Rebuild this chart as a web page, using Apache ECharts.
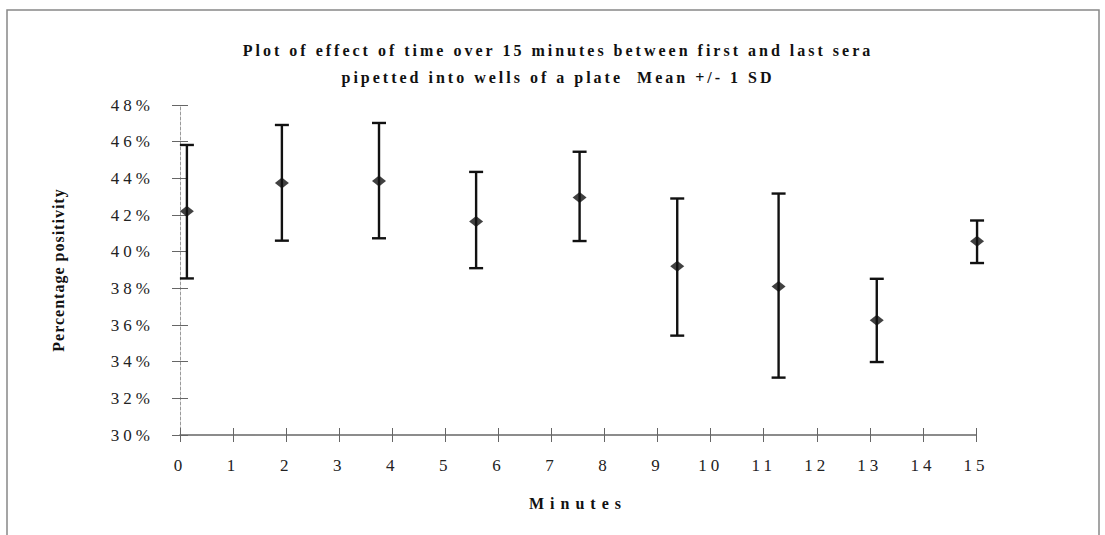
<!DOCTYPE html>
<html>
<head>
<meta charset="utf-8">
<script src="https://cdn.jsdelivr.net/npm/echarts@6/dist/echarts.min.js"></script>
<style>
  html, body { margin: 0; padding: 0; background: #fff; }
  #chart { width: 1105px; height: 535px; }
</style>
</head>
<body>
<div id="chart"></div>
<script>
// minutes after first serum pipetted, mean and +/- 1 SD (percentage positivity)
var minutes = [0.13, 1.92, 3.75, 5.58, 7.53, 9.37, 11.28, 13.13, 15.02];
var means   = [42.2, 43.74, 43.85, 41.65, 42.96, 39.2, 38.1, 36.26, 40.57];
var upper   = [45.82, 46.91, 47.02, 44.35, 45.45, 42.9, 43.17, 38.52, 41.7];
var lower   = [38.54, 40.6, 40.73, 39.1, 40.58, 35.42, 33.13, 33.98, 39.38];

var font = "Liberation Serif";

var errData = minutes.map(function (m, i) { return [m, lower[i], upper[i]]; });
var meanData = minutes.map(function (m, i) { return [m, means[i]]; });

// svg renderer so the old Excel-style letter spacing can be applied to the text
var chart = echarts.init(document.getElementById("chart"), null, { renderer: "svg" });

var option = {
  backgroundColor: "#fff",
  animation: false,
  title: {
    text: "Plot of effect of time over 15 minutes between first and last sera\npipetted into wells of a plate  Mean +/- 1 SD",
    left: 553, top: 32, textAlign: "center",
    textStyle: { fontFamily: font, fontSize: 16, fontWeight: "bold", color: "#111", lineHeight: 27 }
  },
  graphic: [{
    type: "rect", shape: { x: 7, y: 10, width: 1092, height: 540 },
    style: { fill: "none", stroke: "#888", lineWidth: 1.5 }, silent: true
  }],
  grid: { left: 180, right: 129, top: 105, bottom: 100 },
  xAxis: [{
    type: "value", min: 0, max: 15, interval: 1,
    name: "Minutes", nameLocation: "middle", nameGap: 60,
    nameTextStyle: { fontFamily: font, fontSize: 16, fontWeight: "bold", color: "#111" },
    axisLine: { lineStyle: { color: "#666", width: 1.5 } },
    axisTick: { show: true, length: 7, inside: false, lineStyle: { color: "#666" } },
    axisLabel: { fontFamily: font, fontSize: 17, color: "#222", margin: 22 },
    splitLine: { show: false }
  }, {
    type: "value", min: 0, max: 15, interval: 1, position: "bottom",
    axisLine: { show: false },
    axisTick: { show: true, length: 7, inside: true, lineStyle: { color: "#666" } },
    axisLabel: { show: false }, splitLine: { show: false }
  }],
  yAxis: [{
    type: "value", min: 30, max: 48, interval: 2,
    name: "Percentage positivity", nameLocation: "middle", nameGap: 114,
    nameTextStyle: { fontFamily: font, fontSize: 16, fontWeight: "bold", color: "#111" },
    axisLine: { show: true, lineStyle: { color: "#999", width: 1, type: [3, 2] } },
    axisTick: { show: true, length: 8, inside: false, lineStyle: { color: "#666" } },
    axisLabel: { fontFamily: font, fontSize: 17, color: "#222", margin: 26, formatter: "{value}%" },
    splitLine: { show: false }
  }, {
    type: "value", min: 30, max: 48, interval: 2, position: "left",
    axisLine: { show: false },
    axisTick: { show: true, length: 8, inside: true, lineStyle: { color: "#666" } },
    axisLabel: { show: false }, splitLine: { show: false }
  }],
  series: [{
    type: "custom",
    data: errData,
    clip: false,
    renderItem: function (params, api) {
      var x = api.value(0);
      var lo = api.coord([x, api.value(1)]);
      var hi = api.coord([x, api.value(2)]);
      var cap = 7;
      var st = { stroke: "#111", lineWidth: 2.4 };
      return {
        type: "group",
        children: [
          { type: "line", shape: { x1: hi[0], y1: hi[1], x2: lo[0], y2: lo[1] }, style: st },
          { type: "line", shape: { x1: hi[0] - cap, y1: hi[1], x2: hi[0] + cap, y2: hi[1] }, style: st },
          { type: "line", shape: { x1: lo[0] - cap, y1: lo[1], x2: lo[0] + cap, y2: lo[1] }, style: st }
        ]
      };
    }
  }, {
    type: "scatter",
    data: meanData,
    clip: false,
    symbol: "diamond",
    symbolSize: [14, 11],
    itemStyle: { color: "#111" }
  }]
};

chart.setOption(option);

function spaceText() {
  var texts = document.querySelectorAll("#chart svg text");
  texts.forEach(function (t) {
    var s = t.textContent;
    var ls = 4;
    if (s.indexOf("Plot") === 0 || s.indexOf("pipetted") === 0) ls = 3;
    else if (s === "Percentage positivity") ls = 1;
    else if (s === "Minutes") ls = 6;
    t.style.letterSpacing = ls + "px";
    t.style.fontFamily = "'Liberation Serif', 'Times New Roman', serif";
  });
}
spaceText();
chart.on("finished", spaceText);
</script>
</body>
</html>
